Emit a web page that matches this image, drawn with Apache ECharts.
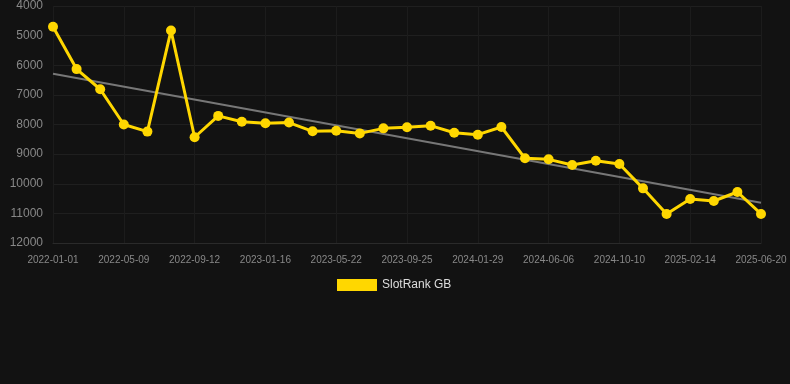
<!DOCTYPE html>
<html><head><meta charset="utf-8">
<script src="https://cdn.jsdelivr.net/npm/echarts@6/dist/echarts.min.js"></script>
<style>html,body{margin:0;padding:0;background:#121212;}#c{width:790px;height:384px;}</style>
</head><body><div id="c"></div>
<script>
const categories = ['2022-01-01','2022-02-12','2022-03-26','2022-05-09','2022-06-20','2022-08-01','2022-09-12','2022-10-24','2022-12-05','2023-01-16','2023-02-27','2023-04-10','2023-05-22','2023-07-03','2023-08-14','2023-09-25','2023-11-06','2023-12-18','2024-01-29','2024-03-12','2024-04-24','2024-06-06','2024-07-18','2024-08-29','2024-10-10','2024-11-21','2025-01-02','2025-02-14','2025-03-28','2025-05-09','2025-06-20'];
const rankValues = [4700,6130,6810,8000,8240,4830,8430,7710,7905,7960,7935,8230,8210,8300,8130,8095,8040,8277,8343,8084,9142,9176,9367,9223,9333,10155,11020,10515,10582,10278,11020];
const trendStart = 6290;
const trendEnd = 10640;
const yTicks = {min: 4000, max: 12000, interval: 1000};

const chart = echarts.init(document.getElementById('c'));
chart.setOption({
  backgroundColor: '#121212',
  animation: false,
  grid: {left: 53, right: 29, top: 6, bottom: 141, containLabel: false},
  legend: {
    top: 274, left: 332,
    data: [{name: 'SlotRank GB', icon: 'rect'}],
    itemWidth: 40, itemHeight: 12, itemGap: 10,
    textStyle: {color: '#dddddd', fontSize: 12, fontFamily: 'Liberation Sans, Arial, sans-serif'}
  },
  xAxis: {
    type: 'category', data: categories, boundaryGap: false,
    axisLine: {show: true, lineStyle: {color: '#2a2a2a'}},
    axisTick: {show: false},
    axisLabel: {interval: 2, color: '#888888', fontSize: 10, margin: 12, fontFamily: 'Liberation Sans, Arial, sans-serif'},
    splitLine: {show: true, interval: 2, lineStyle: {color: '#1c1c1c'}}
  },
  yAxis: {
    type: 'value', inverse: true, min: yTicks.min, max: yTicks.max, interval: yTicks.interval,
    axisLine: {show: false}, axisTick: {show: false},
    axisLabel: {color: '#888888', fontSize: 12, margin: 10, formatter: v => String(v), fontFamily: 'Liberation Sans, Arial, sans-serif'},
    splitLine: {show: true, lineStyle: {color: '#1f1f1f'}}
  },
  series: [
    {
      name: 'Trend', type: 'line', silent: true, symbol: 'none',
      data: [[categories[0], trendStart], [categories[categories.length-1], trendEnd]],
      lineStyle: {color: '#777777', width: 2}, z: 1
    },
    {
      name: 'SlotRank GB', type: 'line', data: rankValues,
      symbol: 'circle', symbolSize: 10,
      itemStyle: {color: '#FFD700'},
      lineStyle: {color: '#FFD700', width: 3}, z: 2
    }
  ]
});
</script></body></html>
